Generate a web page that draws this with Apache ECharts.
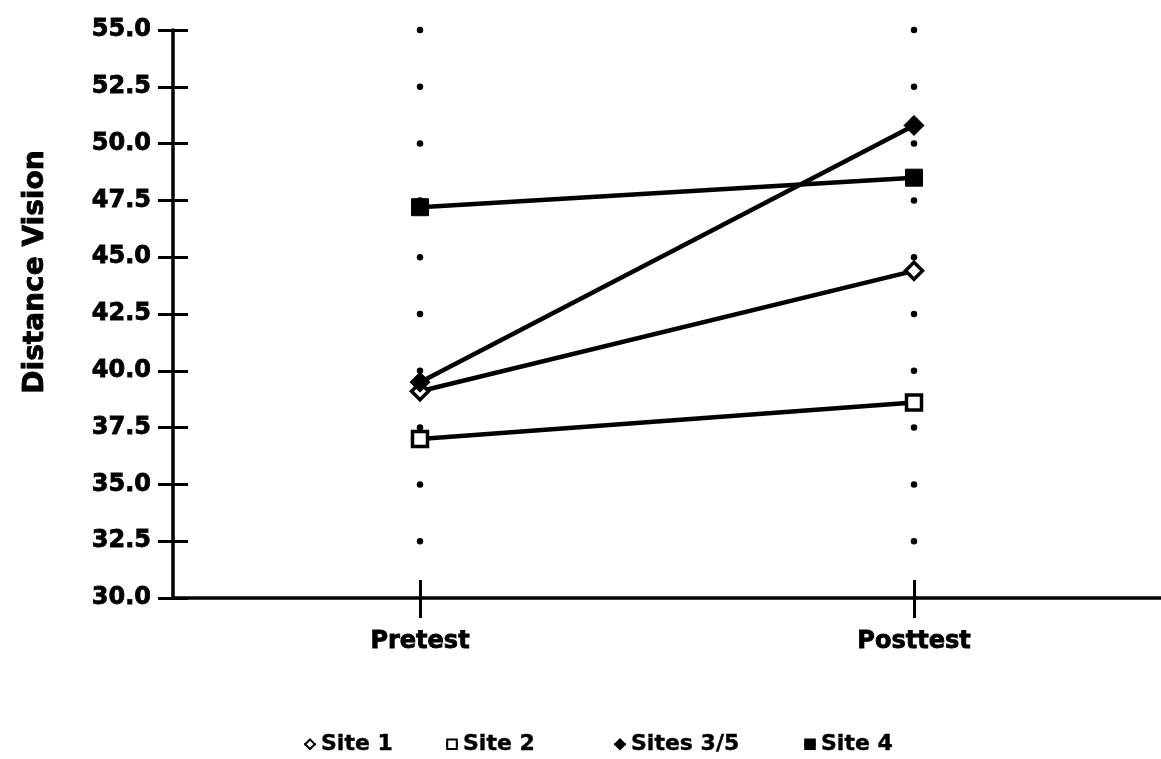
<!DOCTYPE html>
<html><head><meta charset="utf-8">
<script src="https://cdn.jsdelivr.net/npm/echarts@6/dist/echarts.min.js"></script>
<style>html,body{margin:0;padding:0;background:#fff}#c{width:1161px;height:759px}</style>
</head><body><div id="c"></div>
<script>
const categories = ['Pretest', 'Posttest'];
const site1 = [39.1, 44.4];
const site2 = [37.0, 38.6];
const sites35 = [39.5, 50.8];
const site4 = [47.2, 48.5];
const dotValues = [32.5, 35.0, 37.5, 40.0, 42.5, 45.0, 47.5, 50.0, 52.5, 55.0];
const legendNames = ['Site 1', 'Site 2', 'Sites 3/5', 'Site 4'];
const yMin = 30, yMax = 55, yStep = 2.5;

const FONT = 'DejaVu Sans';
const dotData = [];
categories.forEach(c => dotValues.forEach(v => dotData.push([c, v])));

const boldText = (size, bw) => ({ color: '#000', fontFamily: FONT, fontWeight: 'bold', fontSize: size,
  textBorderColor: '#000', textBorderWidth: bw });

function lineSeries(name, data, symbol, filled, size) {
  return {
    name, type: 'line', data, symbol, symbolSize: size,
    lineStyle: { color: '#000', width: 4.5 },
    itemStyle: { color: filled ? '#000' : '#fff', borderColor: '#000', borderWidth: filled ? 1 : 3.5, opacity: 1 },
    z: 5
  };
}

const legendLefts = [298, 440, 608, 798];

const chart = echarts.init(document.getElementById('c'));
chart.setOption({
  animation: false,
  backgroundColor: '#fff',
  grid: { left: 173, right: -6, top: 30, bottom: 161 },
  xAxis: [
    { type: 'category', data: categories, boundaryGap: true,
      axisLine: { lineStyle: { color: '#000', width: 3.5 } },
      axisTick: { show: true, alignWithLabel: true, length: 20, lineStyle: { color: '#000', width: 3 } },
      axisLabel: Object.assign(boldText(24, 0.8), { margin: 32 }),
      splitLine: { show: false } },
    { type: 'category', data: categories, boundaryGap: true, position: 'bottom', offset: 0,
      axisLine: { show: false },
      axisTick: { show: true, alignWithLabel: true, inside: true, length: 18, lineStyle: { color: '#000', width: 3 } },
      axisLabel: { show: false }, splitLine: { show: false } }
  ],
  yAxis: [
    { type: 'value', min: yMin, max: yMax, interval: yStep,
      axisLine: { show: true, lineStyle: { color: '#000', width: 3.5 } },
      axisTick: { show: true, length: 15, lineStyle: { color: '#000', width: 3 } },
      axisLabel: Object.assign(boldText(24, 0.8), { margin: 22, formatter: v => v.toFixed(1) }),
      splitLine: { show: false } },
    { type: 'value', min: yMin, max: yMax, interval: yStep, position: 'left', offset: 0,
      axisLine: { show: false },
      axisTick: { show: true, inside: true, length: 15, lineStyle: { color: '#000', width: 3 } },
      axisLabel: { show: false }, splitLine: { show: false } }
  ],
  graphic: [{
    type: 'text', left: 21, top: 150, rotation: Math.PI / 2,
    style: { text: 'Distance Vision', fill: '#000', stroke: '#000', lineWidth: 0.8,
      font: 'bold 28px "DejaVu Sans"' }
  }],
  legend: legendNames.map((n, i) => ({
    left: legendLefts[i], top: 728, itemWidth: 12, itemHeight: 12,
    textStyle: boldText(22, 0.4), data: [n]
  })),
  series: [
    { type: 'scatter', data: dotData, xAxisIndex: 1, yAxisIndex: 1,
      symbol: 'circle', symbolSize: 6.5, silent: true,
      itemStyle: { color: '#000', opacity: 1 }, z: 2 },
    lineSeries('Site 1', site1, 'diamond', false, 17),
    lineSeries('Site 2', site2, 'rect', false, 15),
    lineSeries('Sites 3/5', sites35, 'diamond', true, 20),
    lineSeries('Site 4', site4, 'rect', true, 17)
  ]
});
</script></body></html>
